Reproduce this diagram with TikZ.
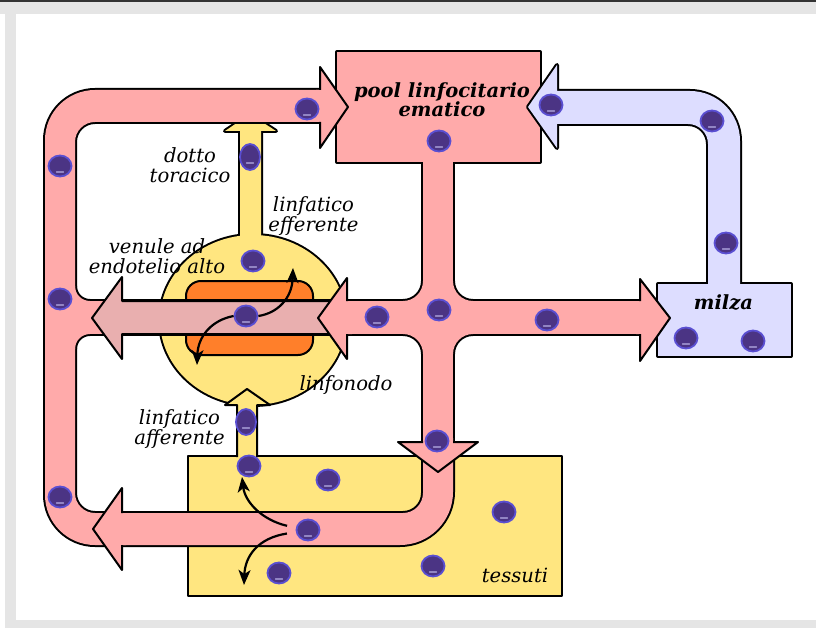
\documentclass[tikz,border=0pt]{standalone}
\usepackage{fontspec}
\setmainfont{DejaVu Serif}
\usetikzlibrary{shapes.geometric,arrows.meta}
\definecolor{pinkc}{HTML}{FFAAAA}
\definecolor{rosec}{HTML}{E9AFAF}
\definecolor{yellowc}{HTML}{FFE680}
\definecolor{orangec}{HTML}{FF7F2A}
\definecolor{lavc}{HTML}{DDDDFF}
\definecolor{lymring}{HTML}{5A4FD2}
\definecolor{lymcore}{HTML}{4B3484}
\definecolor{lymhi}{HTML}{9285C4}
\definecolor{framegray}{HTML}{E5E5E5}
\newcommand\pinknet[1]{%
 \path[#1] (453,455) -- (453,492) arc[start angle=0,end angle=90,radius=53] -- (95,545) arc[start angle=90,end angle=180,radius=50] -- (45,140) arc[start angle=180,end angle=270,radius=50] -- (330,90) -- (330,122) -- (95,122) arc[start angle=270,end angle=180,radius=20] -- (75,493) arc[start angle=180,end angle=90,radius=20] -- (403,513) arc[start angle=90,end angle=0,radius=20] -- (423,455) -- cycle;
 \path[#1] (60,301) rectangle (645,334);
 \path[#1] (423,150) rectangle (453,480);
 \path[#1] (337,52) rectangle (540,162);
 \path[#1] (403,301) arc[start angle=90,end angle=0,radius=20] -- (423,301) -- cycle;
 \path[#1] (453,281) arc[start angle=180,end angle=90,radius=20] -- (453,301) -- cycle;
 \path[#1] (403,334) arc[start angle=270,end angle=360,radius=20] -- (423,334) -- cycle;
 \path[#1] (453,354) arc[start angle=180,end angle=270,radius=20] -- (453,334) -- cycle;
 \path[#1] (75,286) arc[start angle=180,end angle=90,radius=15] -- (75,301) -- cycle;
 \path[#1] (75,349) arc[start angle=180,end angle=270,radius=15] -- (75,334) -- cycle;
}
\newcommand\lavnet[1]{%
 \path[#1] (557,91) -- (690,91) arc[start angle=270,end angle=360,radius=50] -- (740,290) -- (708,290) -- (708,144) arc[start angle=0,end angle=-90,radius=20] -- (557,124) -- (557,148) -- (528,107) -- (557,65) -- cycle;
 \path[#1] (658,284) rectangle (791,356);
}
\newcommand\yelnet[1]{%
 \path[#1] (253,320) ellipse[x radius=93, y radius=85];
 \path[#1] (240,245) -- (240,131) -- (225,131) -- (250,114) -- (276,131) -- (261,131) -- (261,245) -- cycle;
}
\begin{document}
\begin{tikzpicture}[x=1pt,y=-1pt,
  outl/.style={draw=black, line width=4pt, line join=round},
  edge/.style={draw=black, line width=2pt, line join=round},
  lbl/.style={font=\fontsize{19.6}{20}\selectfont\itshape, inner sep=0pt, align=center},
  blbl/.style={font=\fontsize{19.5}{18.5}\selectfont\bfseries\itshape, inner sep=0pt, align=center},
  lym/.style={ellipse, minimum width=23pt, minimum height=21pt, inner sep=0pt,
    fill=lymcore, draw=lymring, line width=1.8pt,
    path picture={\draw[lymhi, line width=1.1pt, line cap=round]
      ([xshift=-3.5pt,yshift=-6pt]path picture bounding box.center) --
      ([xshift=3.5pt,yshift=-6pt]path picture bounding box.center);}},
  lymtall/.style={lym, minimum width=20pt, minimum height=26pt},
  curv/.style={draw=black, line width=2.2pt, -{Stealth[length=15pt,width=12pt,inset=4pt]}}]
\useasboundingbox (0,0) rectangle (816,628);
% frame
\fill[white] (0,0) rectangle (816,628);
\fill[framegray] (0,2) rectangle (816,14);
\fill[framegray] (5,14) rectangle (16,628);
\fill[framegray] (5,620) rectangle (816,628);
\fill[black!80] (0,0) rectangle (816,2);
% tissues
\filldraw[fill=yellowc, edge] (188,456) rectangle (562,596);
% lymph node
\yelnet{outl}
\yelnet{fill=yellowc}
% afferent lymphatic
\fill[yellowc] (237,460) -- (237,405) -- (225,405) -- (247,389) -- (270,405) -- (257,405) -- (257,460) -- cycle;
\draw[edge] (237,457) -- (237,405) -- (225,405) -- (247,389) -- (270,405) -- (257,405) -- (257,457);
\filldraw[fill=orangec, edge, rounded corners=15pt] (186,281) rectangle (313,355);
% blood network
\pinknet{outl}
\pinknet{fill=pinkc}
% spleen circuit
\lavnet{outl}
\lavnet{fill=lavc}
% HEV arrow
\filldraw[fill=rosec, edge] (335,301) -- (122,301) -- (122,277) -- (92,318) -- (122,359) -- (122,334) -- (335,334) -- cycle;
% pink arrow heads
\fill[pinkc] (347,301) -- (347,278) -- (318,318) -- (347,359) -- (347,334) -- (352,334) -- (352,301) -- cycle;
\draw[edge] (347,301) -- (347,278) -- (318,318) -- (347,359) -- (347,334);
\fill[pinkc] (320,90) -- (320,67) -- (348,107) -- (320,148) -- (320,122) -- (316,122) -- (316,90) -- cycle;
\draw[edge] (320,90) -- (320,67) -- (348,107) -- (320,148) -- (320,122);
\fill[pinkc] (640,301) -- (640,279) -- (670,318) -- (640,361) -- (640,334) -- (636,334) -- (636,301) -- cycle;
\draw[edge] (640,301) -- (640,279) -- (670,318) -- (640,361) -- (640,334);
\fill[pinkc] (122,513) -- (122,488) -- (93,529) -- (122,570) -- (122,545) -- (126,545) -- (126,513) -- cycle;
\draw[edge] (122,513) -- (122,488) -- (93,529) -- (122,570) -- (122,545);
\fill[pinkc] (423,442) -- (398,442) -- (438,472) -- (478,442) -- (453,442) -- (453,438) -- (423,438) -- cycle;
\draw[edge] (423,442) -- (398,442) -- (438,472) -- (478,442) -- (453,442);
% labels
\node[blbl, anchor=north] (pool) at (442,82) {pool linfocitario\\ematico};
\node[blbl, anchor=base] (milza) at (723.5,309) {milza};
\node[lbl, anchor=north] (dotto) at (190,147.5) {dotto\\toracico};
\node[lbl, anchor=north] (eff) at (313.5,196.5) {linfatico\\efferente};
\node[lbl, anchor=north] (hev) at (157,238.5) {venule ad\\endotelio alto};
\node[lbl, anchor=north] (aff) at (179.5,409.5) {linfatico\\afferente};
\node[lbl, anchor=base] (nodo) at (346,390) {linfonodo};
\node[lbl, anchor=base] (tess) at (515,582) {tessuti};
% lymphocytes
\node[lym] (d1) at (307,109) {};
\node[lym] (d2) at (60,166) {};
\node[lym] (d3) at (60,299) {};
\node[lym] (d4) at (60,497) {};
\node[lymtall] (d5) at (250,157) {};
\node[lym] (d6) at (253,261) {};
\node[lym] (d7) at (246,316) {};
\node[lym] (d8) at (377,317) {};
\node[lym] (d9) at (439,310) {};
\node[lym] (d10) at (439,141) {};
\node[lym] (d11) at (547,320) {};
\node[lym] (d12) at (551,105) {};
\node[lym] (d13) at (712,121) {};
\node[lym] (d14) at (726,243) {};
\node[lym] (d15) at (686,338) {};
\node[lym] (d16) at (753,341) {};
\node[lymtall] (d17) at (246,422) {};
\node[lym] (d18) at (249,466) {};
\node[lym] (d19) at (328,480) {};
\node[lym] (d20) at (437,441) {};
\node[lym] (d21) at (308,530) {};
\node[lym] (d22) at (504,512) {};
\node[lym] (d23) at (279,573) {};
\node[lym] (d24) at (433,566) {};
% migration arrows
\coordinate (a1) at (293,268);
\coordinate (a2) at (197,365);
\coordinate (a3) at (242,477);
\coordinate (a4) at (244,585);
\draw[curv] (d7.east) .. controls (278,313) and (292,298) .. (a1);
\draw[curv] (d7.west) .. controls (212,320) and (198,336) .. (a2);
\draw[curv, shorten <=9pt] (d21.170) .. controls (262,520) and (245,502) .. (a3);
\draw[curv, shorten <=9pt] (d21.190) .. controls (258,538) and (245,556) .. (a4);
\end{tikzpicture}
\end{document}
